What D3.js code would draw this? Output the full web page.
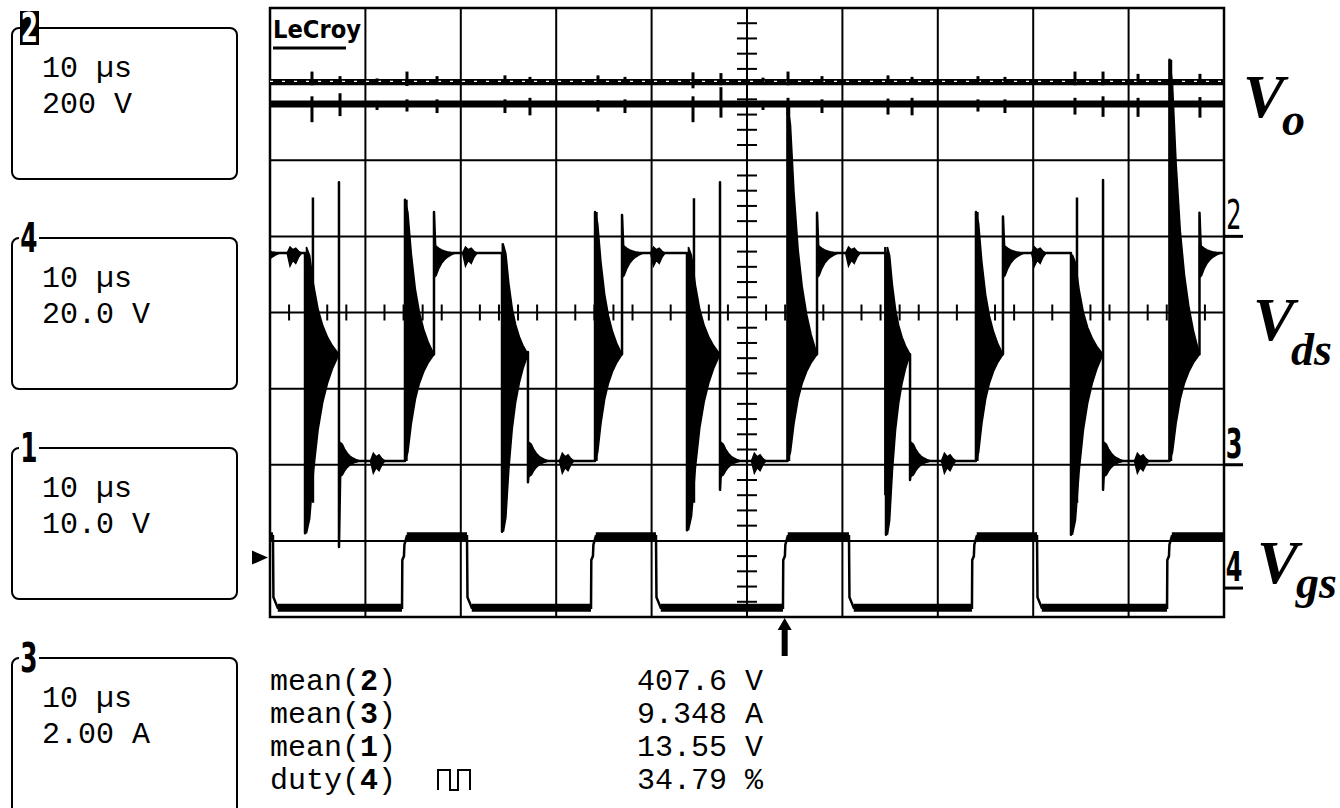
<!DOCTYPE html>
<html><head><meta charset="utf-8">
<script src="https://cdn.jsdelivr.net/npm/d3@7/dist/d3.min.js"></script>
<style>html,body{margin:0;padding:0;background:#fff;}svg{display:block;}</style>
</head><body><svg id="chart" width="1340" height="808"></svg>
<script>
// ---------------- DATA (time in µs, 10 µs/div; amplitude in screen divisions from centre) -------------
const timeTicks = [0,10,20,30,40,50,60,70,80,90,100];
const divTicks = [-4,-3,-2,-1,0,1,2,3,4];

const boxChannels = ['2','4','1','3'];
const boxTimebase = ['10 µs','10 µs','10 µs','10 µs'];
const boxScale = ['200 V','20.0 V','10.0 V','2.00 A'];

const measFunc = ['mean','mean','mean','duty'];
const measChan = ['2','3','1','4'];
const measValue = ['407.6 V','9.348 A','13.55 V','34.79 %'];

const markerChannels = ['2','3','4'];
const markerLevels = [1.0, -2.0, -3.62];

const labelMain = ['V','V','V'];
const labelSub = ['o','ds','gs'];

// channel 2 (Vo) and channel 3 (current) traces
const voLevel = 3.035;
const curLevel = 2.74;
const spikeTimes = [4.40,7.34,11.22,14.36,17.51,24.63,27.25,34.38,37.21,44.34,47.27,51.68,54.30,57.86,64.78,67.30,74.21,77.04,84.38,87.32,90.99,97.48];
const voSpikeUp =   [0.13,0.07,0.04,0.13,0.07,0.08,0.06,0.08,0.06,0.12,0.11,0.05,0.13,0.07,0.08,0.06,0.07,0.06,0.13,0.13,0.10,0.10];
const voSpikeDown = [0.05,0.04,0.02,0.06,0.03,0.04,0.03,0.04,0.03,0.09,0.05,0.02,0.05,0.03,0.04,0.03,0.04,0.03,0.05,0.05,0.04,0.04];
const curSpikeDown = [0.24,0.16,0.08,0.10,0.12,0.12,0.15,0.10,0.12,0.24,0.18,0.08,0.15,0.12,0.14,0.15,0.10,0.12,0.14,0.17,0.17,0.18];
const curSpikeUp =   [0.10,0.14,0.04,0.06,0.06,0.06,0.08,0.05,0.06,0.10,0.22,0.04,0.08,0.06,0.07,0.08,0.06,0.06,0.08,0.10,0.08,0.09];

// Vds trace
const vdsHigh = 0.78, vdsLow = -1.95, vdsMid = -0.55;
const vdsFall = [3.67, 24.32, 43.71, 64.57, 83.96];
const vdsFallBottom = [-2.90, -2.88, -2.86, -2.92, -2.92];
const vdsFallBandTop = [0.86, 0.89, 0.86, 0.86, 0.76];
const vdsFallSpikeT = [4.50, 24.40, 44.44, 64.50, 84.59];
const vdsFallSpikeTop = [1.51, 0.91, 1.50, 0.86, 1.51];
const vdsFallSpikeBottom = [-2.50, -2.40, -2.50, -2.40, -2.50];
const vdsFallSettle = [7.23, 27.04, 47.17, 67.09, 87.32];
const vdsFallSettleTop = [1.71, -0.52, 1.71, -0.55, 1.74];
const vdsFallSettleBottom = [-3.08, -2.23, -2.33, -2.20, -2.33];
const vdsRise = [14.15, 34.07, 54.25, 74.00, 94.29];
const vdsRiseTop = [1.48, 1.32, 2.73, 1.32, 3.32];
const vdsRiseSettle = [17.19, 36.90, 57.34, 76.83, 97.43];
const vdsRiseSettleTop = [1.32, 1.28, 1.31, 1.26, 1.31];
const vdsHighRingStart = [-1.2, 17.19, 36.90, 57.34, 76.83, 97.43];
const vdsLowRingStart = [7.23, 27.04, 47.17, 67.09, 87.32];
// decaying ringing envelope read from the bursts
const ringFrac = [0, 0.1, 0.22, 0.36, 0.5, 0.65, 0.8, 1];
const ringAmp  = [1, 0.92, 0.65, 0.42, 0.27, 0.16, 0.08, 0];
const bumpFrac = [0, 0.2, 0.4, 0.6, 0.8, 1];
const bumpAmp  = [0, 1, 0.55, 0.8, 0.3, 0];

// Vgs trace
const vgsHigh = -2.94, vgsLow = -3.88;
const vgsFall = [0.31, 20.65, 40.46, 60.69, 80.40];
const vgsRise = [13.84, 33.65, 53.77, 73.58, 94.03];
const vgsFallShape = [[0.05,-3.74],[0.5,-3.88]];
const vgsRiseShape = [[0.03,-3.25],[0.2,-3.2],[0.25,-3.05],[0.5,-2.94]];

const triggerTime = 53.95;
const triggerLevel = -3.22;

// ---------------- DRAWING ----------------
const svg = d3.select('#chart');
svg.append('rect').attr('width',1340).attr('height',808).attr('fill','#fff');
const x = d3.scaleLinear().domain([0,100]).range([270,1224]);
const y = d3.scaleLinear().domain([-4,4]).range([617,8]);

svg.append('defs').append('clipPath').attr('id','clip')
  .append('rect').attr('x',x(0)).attr('y',y(4)).attr('width',x(100)-x(0)).attr('height',y(-4)-y(4));

// grid
const grid = svg.append('g').attr('stroke','#000').attr('stroke-width',2);
timeTicks.forEach(t=>grid.append('line').attr('x1',x(t)).attr('x2',x(t)).attr('y1',y(-4)).attr('y2',y(4)));
divTicks.forEach(v=>grid.append('line').attr('x1',x(0)).attr('x2',x(100)).attr('y1',y(v)).attr('y2',y(v)));
d3.range(-20,21).filter(k=>k%5!==0).forEach(k=>{
  grid.append('line').attr('x1',x(50)-10).attr('x2',x(50)+10).attr('y1',y(k/5)).attr('y2',y(k/5));
});
d3.range(0,51).filter(k=>k%5!==0).forEach(k=>{
  grid.append('line').attr('x1',x(2*k)).attr('x2',x(2*k)).attr('y1',y(0)-8).attr('y2',y(0)+8);
});
svg.append('rect').attr('x',x(0)).attr('y',y(4)).attr('width',x(100)-x(0)).attr('height',y(-4)-y(4))
  .attr('fill','none').attr('stroke','#000').attr('stroke-width',2.5);

// LeCroy logo
svg.append('text').attr('x',x(0)+3).attr('y',38).text('LeCroy')
  .attr('font-family','DejaVu Sans').attr('font-weight','bold').attr('font-size',25)
  .attr('textLength',88).attr('lengthAdjust','spacingAndGlyphs');
svg.append('line').attr('x1',x(0)+3).attr('x2',x(0)+76).attr('y1',48).attr('y2',48).attr('stroke','#000').attr('stroke-width',3);

const tr = svg.append('g').attr('clip-path','url(#clip)');
const line = d3.line().x(d=>x(d[0])).y(d=>y(d[1]));
const area = d3.area().x(d=>x(d.t)).y0(d=>y(d.lo)).y1(d=>y(d.hi));

// ---- Vo (ch 2)
tr.append('path').attr('d',line([[0,voLevel],[100,voLevel]])).attr('stroke','#000').attr('stroke-width',5).attr('fill','none');
tr.append('path').attr('d',line([[0,voLevel],[100,voLevel]])).attr('stroke','#fff').attr('stroke-width',1.2)
  .attr('stroke-dasharray','3 9').attr('fill','none');
spikeTimes.forEach((t,i)=>{
  tr.append('path').attr('d',line([[t,voLevel+voSpikeUp[i]],[t,voLevel-voSpikeDown[i]]]))
    .attr('stroke','#000').attr('stroke-width',3);
});
// ---- current (ch 3)
tr.append('path').attr('d',line([[0,curLevel],[100,curLevel]])).attr('stroke','#000').attr('stroke-width',7).attr('fill','none');
spikeTimes.forEach((t,i)=>{
  tr.append('path').attr('d',line([[t,curLevel+curSpikeUp[i]],[t,curLevel-curSpikeDown[i]]]))
    .attr('stroke','#000').attr('stroke-width',3);
});

// ---- Vds
function band(t0,t1,top,bot,mid){
  return ringFrac.map((f,i)=>({t:t0+(t1-t0)*f, hi:mid+(top-mid)*ringAmp[i], lo:mid-(mid-bot)*ringAmp[i]}));
}
function ring(t0,dur,level,up,down){
  return ringFrac.map((f,i)=>({t:t0+dur*f, hi:level+up*ringAmp[i], lo:level-down*ringAmp[i]}));
}
function bump(t0,dur,level,up,down){
  return bumpFrac.map((f,i)=>({t:t0+dur*f, hi:level+up*bumpAmp[i], lo:level-down*bumpAmp[i]}));
}
const vdsPts = [[0,vdsHigh]];
for(let i=0;i<vdsFall.length;i++){
  vdsPts.push([vdsFall[i],vdsHigh],[vdsFall[i],vdsFallBottom[i]],[vdsFall[i],vdsMid],
    [vdsFallSettle[i],vdsMid],[vdsFallSettle[i],vdsFallSettleTop[i]],[vdsFallSettle[i],vdsFallSettleBottom[i]],
    [vdsFallSettle[i]+0.15,vdsLow],[vdsRise[i],vdsLow],[vdsRise[i],vdsRiseTop[i]],[vdsRise[i],vdsMid],
    [vdsRiseSettle[i],vdsMid],[vdsRiseSettle[i],vdsRiseSettleTop[i]],[vdsRiseSettle[i]+0.15,vdsHigh]);
}
vdsPts.push([100,vdsHigh]);
tr.append('path').attr('d',line(vdsPts)).attr('fill','none').attr('stroke','#000').attr('stroke-width',2.5).attr('stroke-linejoin','round');
const bandAttr = s=>s.attr('fill','#000').attr('stroke','#000').attr('stroke-width',1.5);
vdsFall.forEach((t,i)=>{
  tr.append('path').attr('d',area(band(t+0.15,vdsFallSettle[i],vdsFallBandTop[i],vdsFallBottom[i],vdsMid))).call(bandAttr);
  tr.append('path').attr('d',line([[vdsFallSpikeT[i],vdsFallSpikeTop[i]],[vdsFallSpikeT[i],vdsFallSpikeBottom[i]]]))
    .attr('stroke','#000').attr('stroke-width',2.5);
});
vdsRise.forEach((t,i)=>{
  tr.append('path').attr('d',area(band(t,vdsRiseSettle[i],vdsRiseTop[i],vdsLow,vdsMid))).call(bandAttr);
  tr.append('path').attr('d',line([[t+0.1,vdsRiseTop[i]],[t+0.1,vdsLow]])).attr('stroke','#000').attr('stroke-width',3.5);
});
vdsHighRingStart.forEach(t=>{
  tr.append('path').attr('d',area(ring(t,2.2,vdsHigh,0.1,0.32))).call(bandAttr);
  tr.append('path').attr('d',area(bump(t+3.0,1.5,vdsHigh,0.08,0.17))).call(bandAttr);
});
vdsLowRingStart.forEach(t=>{
  tr.append('path').attr('d',area(ring(t+0.15,2.0,vdsLow,0.24,0.2))).call(bandAttr);
  tr.append('path').attr('d',area(bump(t+3.3,1.5,vdsLow,0.1,0.16))).call(bandAttr);
});

// ---- Vgs
const vgsPts = [[0,vgsHigh]];
for(let i=0;i<vgsFall.length;i++){
  const f=vgsFall[i], r=vgsRise[i];
  vgsPts.push([f,vgsHigh]);
  vgsFallShape.forEach(s=>vgsPts.push([f+s[0],s[1]]));
  vgsPts.push([r,vgsLow]);
  vgsRiseShape.forEach(s=>vgsPts.push([r+s[0],s[1]]));
}
vgsPts.push([100,vgsHigh]);
tr.append('path').attr('d',line(vgsPts)).attr('fill','none').attr('stroke','#000').attr('stroke-width',2.5);
for(let i=0;i<vgsFall.length;i++){
  const f=vgsFall[i], r=vgsRise[i], nf=i+1<vgsFall.length?vgsFall[i+1]:100;
  tr.append('path').attr('d',line([[f+0.5,vgsLow],[r,vgsLow]])).attr('stroke','#000').attr('stroke-width',8);
  tr.append('path').attr('d',line([[r+0.5,vgsHigh],[nf,vgsHigh]])).attr('stroke','#000').attr('stroke-width',8);
}
tr.append('path').attr('d',line([[0,vgsHigh],[vgsFall[0],vgsHigh]])).attr('stroke','#000').attr('stroke-width',8);

// trigger markers
const tx = x(triggerTime);
svg.append('path').attr('d',`M${tx},${y(-4)+1} L${tx+7},${y(-4)+13} L${tx+3},${y(-4)+13} L${tx+3},${y(-4)+39} L${tx-3},${y(-4)+39} L${tx-3},${y(-4)+13} L${tx-7},${y(-4)+13} Z`).attr('fill','#000');
const ty = y(triggerLevel);
svg.append('path').attr('d',`M${x(0)-18},${ty-7} L${x(0)-2},${ty} L${x(0)-18},${ty+7} Z`).attr('fill','#000');

// right channel markers
markerChannels.forEach((c,i)=>{
  const yy=y(markerLevels[i]);
  svg.append('line').attr('x1',x(100)).attr('x2',x(100)+19).attr('y1',yy).attr('y2',yy).attr('stroke','#000').attr('stroke-width',3);
  svg.append('text').attr('transform',`translate(${x(100)+10},${yy-7}) scale(0.6,1)`)
    .attr('text-anchor','middle').attr('font-family','DejaVu Sans').attr('font-weight',i===0?'normal':'bold')
    .attr('font-size',40).text(c);
});

// trace labels
const labelPos = [[1243,117,1282,135],[1253,340,1291,365],[1257,583,1296,598]];
labelMain.forEach((m,i)=>{
  const p=labelPos[i];
  svg.append('text').attr('x',p[0]).attr('y',p[1]).text(m).attr('font-family','Liberation Serif')
    .attr('font-weight','bold').attr('font-style','italic').attr('font-size',62);
  svg.append('text').attr('x',p[2]).attr('y',p[3]).text(labelSub[i]).attr('font-family','Liberation Serif')
    .attr('font-weight','bold').attr('font-style','italic').attr('font-size',46);
});

// channel boxes
const mono = 'Liberation Mono';
boxChannels.forEach((c,i)=>{
  const y0 = 28 + i*210, h = i===3?170:151;
  svg.append('rect').attr('x',12).attr('y',y0).attr('width',225).attr('height',h).attr('rx',7)
    .attr('fill','none').attr('stroke','#000').attr('stroke-width',2);
  if(i===0){
    svg.append('rect').attr('x',20).attr('y',y0-17).attr('width',19).attr('height',34).attr('fill','#000');
    svg.append('text').attr('transform',`translate(29.5,${y0+14}) scale(0.62,1)`).attr('text-anchor','middle')
      .attr('font-family','DejaVu Sans').attr('font-weight','bold').attr('font-size',40).attr('fill','#fff').text(c);
  } else {
    svg.append('rect').attr('x',19).attr('y',y0-16).attr('width',20).attr('height',32).attr('fill','#fff');
    svg.append('text').attr('transform',`translate(29,${y0+14}) scale(0.62,1)`).attr('text-anchor','middle')
      .attr('font-family','DejaVu Sans').attr('font-weight','bold').attr('font-size',40).attr('fill','#000').text(c);
  }
  svg.append('text').attr('x',42).attr('y',y0+49).attr('font-family',mono).attr('font-size',30).text(boxTimebase[i]);
  svg.append('text').attr('x',42).attr('y',y0+85).attr('font-family',mono).attr('font-size',30).text(boxScale[i]);
});

// measurements
measFunc.forEach((f,i)=>{
  const yy = 690 + i*33;
  const t = svg.append('text').attr('x',270).attr('y',yy).attr('font-family',mono).attr('font-size',30);
  t.append('tspan').text(f+'(');
  t.append('tspan').attr('font-weight','bold').text(measChan[i]);
  t.append('tspan').text(')');
  svg.append('text').attr('x',763).attr('y',yy).attr('text-anchor','end').attr('font-family',mono).attr('font-size',30).text(measValue[i]);
});
// pulse-width icon on the duty line
svg.append('path').attr('d','M438,790 V770 H450 V790 H458 V770 H470 V790').attr('fill','none').attr('stroke','#000').attr('stroke-width',2);
</script></body></html>
